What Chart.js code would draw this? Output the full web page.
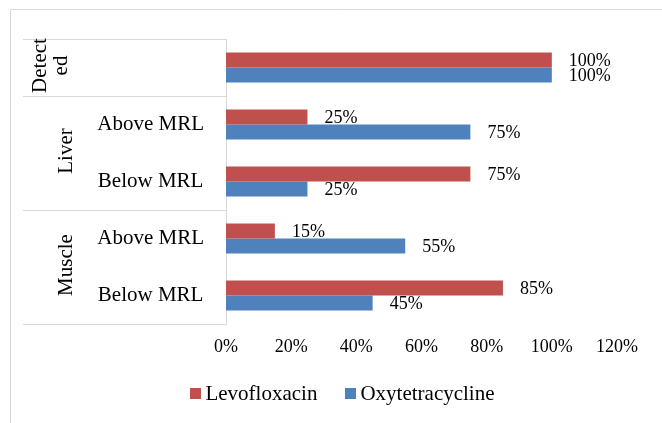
<!DOCTYPE html>
<html>
<head>
<meta charset="utf-8">
<script src="https://cdn.jsdelivr.net/npm/chart.js@4.4.0/dist/chart.umd.min.js"></script>
<style>
  html, body { margin: 0; padding: 0; background: #fff; }
</style>
</head>
<body>
<canvas id="myChart" width="662" height="423"></canvas>
<script>
// inner category labels (one per bar pair) and the outer groups around them
const subLabels = ["", "Above MRL", "Below MRL", "Above MRL", "Below MRL"];
const groupLabels = [["Detect", "ed"], ["Liver"], ["Muscle"]];
const groupSizes = [1, 2, 2];

// series values in %
const seriesNames = ["Levofloxacin", "Oxytetracycline"];
const levofloxacin = [100, 25, 75, 15, 85];
const oxytetracycline = [100, 75, 25, 55, 45];

// x axis ticks
const xMin = 0;
const xMax = 120;
const xStep = 20;

const red = "#C0504D";
const blue = "#4F81BD";
const lineGray = "#D9D9D9";
const serif = "'Liberation Serif', 'Times New Roman', serif";

// frame, group separators and the rotated group labels
const groupAxisPlugin = {
  id: "groupAxis",
  beforeDraw(chart) {
    const c = chart.ctx;
    const yScale = chart.scales.y;
    const left = chart.chartArea.left;
    const w = (yScale.bottom - yScale.top) / subLabels.length;

    c.save();
    c.strokeStyle = lineGray;
    c.lineWidth = 1;
    c.beginPath();
    c.moveTo(10.5, 423);
    c.lineTo(10.5, 9.5);
    c.lineTo(662, 9.5);
    c.stroke();

    let k = 0;
    c.fillStyle = "#000";
    c.font = "21px " + serif;
    c.textAlign = "center";
    c.textBaseline = "alphabetic";
    for (let g = 0; g < groupLabels.length; g++) {
      const top = yScale.top + k * w;
      const bottom = top + groupSizes[g] * w;
      c.beginPath();
      c.moveTo(23, Math.round(top) + 0.5);
      c.lineTo(left, Math.round(top) + 0.5);
      if (g === groupLabels.length - 1) {
        c.moveTo(23, Math.round(bottom) + 0.5);
        c.lineTo(left, Math.round(bottom) + 0.5);
      }
      c.stroke();

      const lines = groupLabels[g];
      const n = lines.length;
      const mid = (top + bottom) / 2 - 2;
      for (let i = 0; i < n; i++) {
        const bx = 72 - 5 * (n - 1) - (n - 1 - i) * 21;
        c.save();
        c.translate(bx, mid);
        c.rotate(-Math.PI / 2);
        c.fillText(lines[i], 0, 0);
        c.restore();
      }
      k += groupSizes[g];
    }
    c.restore();
  },
  afterDatasetsDraw(chart) {
    // value labels to the right of each bar
    const c = chart.ctx;
    c.save();
    c.fillStyle = "#000";
    c.font = "18px " + serif;
    c.textAlign = "left";
    c.textBaseline = "middle";
    chart.data.datasets.forEach((ds, i) => {
      const meta = chart.getDatasetMeta(i);
      meta.data.forEach((bar, j) => {
        c.fillText(ds.data[j] + "%", bar.x + 17, bar.y + 1);
      });
    });
    c.restore();
  },
  afterDraw(chart) {
    // legend below the axis
    const c = chart.ctx;
    const colors = chart.data.datasets.map(ds => ds.backgroundColor);
    c.save();
    c.font = "21px " + serif;
    c.textAlign = "left";
    c.textBaseline = "middle";
    const widths = seriesNames.map(s => c.measureText(s).width);
    const box = 11, gap = 4, spacing = 28;
    let total = spacing * (seriesNames.length - 1);
    widths.forEach(tw => { total += box + gap + tw; });
    let x = 342.5 - total / 2;
    const cy = 393.5;
    seriesNames.forEach((s, i) => {
      c.fillStyle = colors[i];
      c.fillRect(Math.round(x), Math.round(cy - box / 2), box, box);
      c.fillStyle = "#000";
      c.fillText(s, x + box + gap, cy + 1);
      x += box + gap + widths[i] + spacing;
    });
    c.restore();
  }
};

const ctx = document.getElementById("myChart").getContext("2d");

new Chart(ctx, {
  type: "bar",
  data: {
    labels: subLabels,
    datasets: [
      {
        label: seriesNames[0],
        data: levofloxacin,
        backgroundColor: red,
        categoryPercentage: 0.53,
        barPercentage: 1,
      },
      {
        label: seriesNames[1],
        data: oxytetracycline,
        backgroundColor: blue,
        categoryPercentage: 0.53,
        barPercentage: 1,
      },
    ],
  },
  options: {
    indexAxis: "y",
    responsive: false,
    animation: false,
    layout: { padding: { top: 39, right: 45, bottom: 0, left: 0 } },
    plugins: {
      legend: { display: false },
      tooltip: { enabled: false },
    },
    scales: {
      x: {
        min: xMin,
        max: xMax,
        ticks: {
          stepSize: xStep,
          callback: (v) => v + "%",
          color: "#000",
          font: { family: serif, size: 18 },
          padding: 12,
          maxRotation: 0,
        },
        grid: { display: false, drawTicks: false },
        border: { display: false },
        afterFit: (s) => { s.height = 99; },
      },
      y: {
        ticks: {
          color: "#000",
          font: { family: serif, size: 21 },
          crossAlign: "center",
          padding: 22,
          autoSkip: false,
        },
        grid: { display: false, drawTicks: false },
        border: { display: true, color: lineGray, width: 1 },
        afterFit: (s) => { s.width = 226; },
      },
    },
  },
  plugins: [groupAxisPlugin],
});
</script>
</body>
</html>
